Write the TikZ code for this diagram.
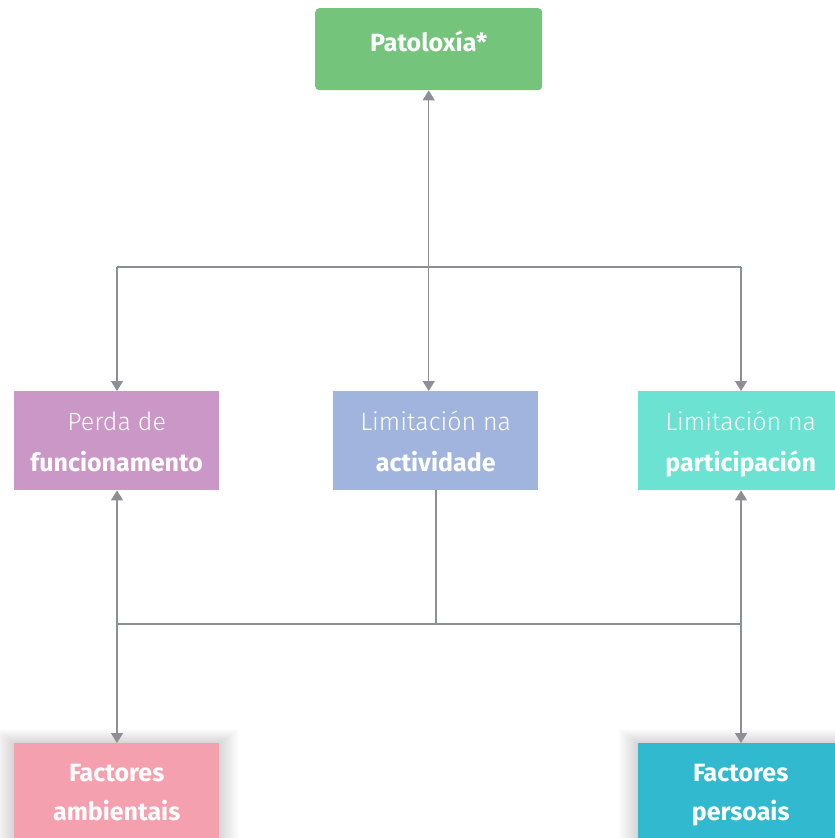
\documentclass[tikz,border=0pt]{standalone}
\usepackage{fontspec}
\setmainfont{Fira Sans}
\newfontfamily\lightfont{Fira Sans}[UprightFont=* Light]
\usetikzlibrary{arrows.meta}
\definecolor{cpat}{HTML}{74C47C}
\definecolor{cfun}{HTML}{CB97C6}
\definecolor{cact}{HTML}{A0B4DE}
\definecolor{cpar}{HTML}{6CE3D2}
\definecolor{camb}{HTML}{F5A0AE}
\definecolor{cper}{HTML}{31B9D0}
\definecolor{cline}{HTML}{8C9096}
\newcommand{\topstrut}{\rule{0pt}{32.7pt}}
\newcommand{\botstrut}{\rule[-12.3pt]{0pt}{1pt}}
\tikzset{
  box/.style={inner sep=0pt, minimum width=205pt, minimum height=99pt, anchor=north west, text=white, align=center, font=\fontsize{25}{41}\selectfont},
  conn/.style={draw=cline, line width=1.5pt},
  tip/.style={conn, {Triangle[width=12pt,length=10pt]}-{Triangle[width=12pt,length=10pt]}},
  tipend/.style={conn, -{Triangle[width=12pt,length=10pt]}},
}
\begin{document}
\begin{tikzpicture}[x=1pt,y=-1pt]
\useasboundingbox (0,0) rectangle (835,838);
\fill[white] (0,0) rectangle (835,838);
% shadows for bottom boxes
\foreach \i in {1,...,20}{
  \fill[black, opacity=0.008] (14-\i,743-\i*0.7) rectangle (219+\i,860);
  \fill[black, opacity=0.008] (638-\i,743-\i*0.7) rectangle (843+\i,860);
}
\node[box, fill=cpat, rounded corners=4pt, minimum width=227pt, minimum height=82pt] (pat) at (315,8) {\textbf{Patoloxía*}\rule[-16.7pt]{0pt}{28.7pt}};
\node[box, fill=cfun] (fun) at (14,391) {\topstrut{\lightfont Perda de}\\\textbf{funcionamento}\botstrut};
\node[box, fill=cact] (act) at (333,391) {\topstrut{\lightfont Limitación na}\\\textbf{actividade}\botstrut};
\node[box, fill=cpar] (par) at (638,391) {\topstrut{\lightfont Limitación na}\\\textbf{participación}\botstrut};
\node[box, fill=camb, font=\fontsize{25}{39}\selectfont] (amb) at (14,743) {\strut\textbf{Factores}\\\textbf{ambientais}\strut};
\node[box, fill=cper, font=\fontsize{25}{39}\selectfont] (per) at (638,743) {\strut\textbf{Factores}\\\textbf{persoais}\strut};
% upper connectors
\coordinate (tl) at (117,267);
\coordinate (tr) at (741,267);
\draw[conn] (tl) -- (tr);
\draw[tip] (pat.south) -- (pat.south |- act.north);
\draw[tipend] (tl) -- (tl |- fun.north);
\draw[tipend] (tr) -- (tr |- par.north);
% lower connectors
\coordinate (bl) at (117,624);
\coordinate (br) at (741,624);
\coordinate (bm) at (436,624);
\draw[conn] (bl) -- (br);
\draw[conn] (act.south -| bm) -- (bm);
\draw[tip] (bl |- fun.south) -- (bl |- amb.north);
\draw[tip] (br |- par.south) -- (br |- per.north);
\end{tikzpicture}
\end{document}
